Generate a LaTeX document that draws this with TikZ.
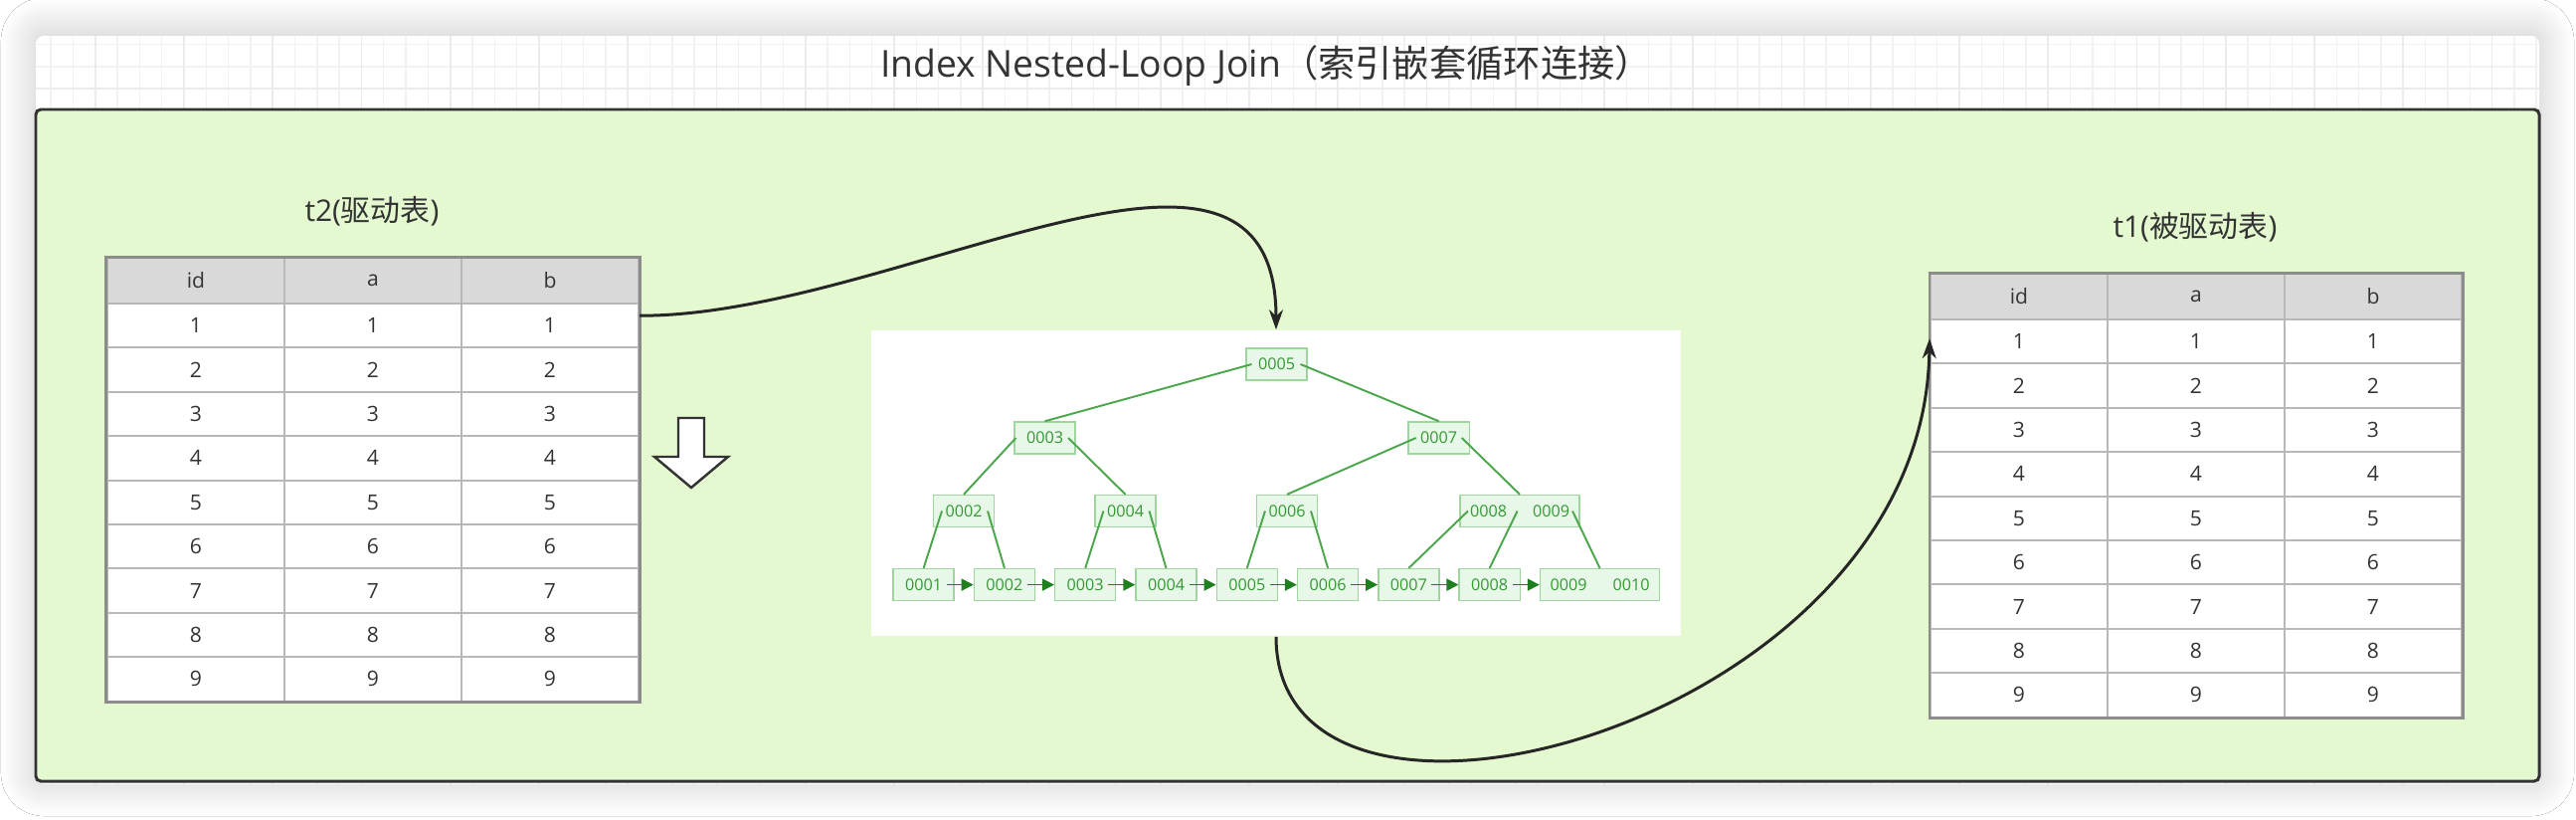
\documentclass[tikz,border=0pt]{standalone}
\usepackage{fontspec}
\setmainfont{Open Sans}
\newfontfamily\cjk{Noto Sans CJK SC}
\usepackage{tikz}
\usetikzlibrary{arrows.meta,shadows.blur}

\definecolor{panelgreen}{HTML}{E4F9CF}
\definecolor{treefill}{HTML}{E8F8E8}
\definecolor{treeborder}{HTML}{9ED69E}
\definecolor{treetext}{HTML}{339933}
\definecolor{treeline}{HTML}{4CA64C}
\definecolor{linkgreen}{HTML}{1E7F1E}
\definecolor{headgray}{HTML}{D9D9D9}
\definecolor{ink}{HTML}{333333}

\newcommand\dbtable[3]{%
  \foreach \c/\h in {1/id,2/a,3/b}{
    \node[headcell] (#1-0-\c) at ({#2+89+178*(\c-1)},{#3+23}) {\h};
    \foreach \r in {1,...,9}
      \node[cell] (#1-\r-\c) at ({#2+89+178*(\c-1)},{#3+68.2+44.4*(\r-1)}) {\r};
  }
  \draw[tableedge] (#1-0-1.north west) rectangle (#1-9-3.south east);
}

\begin{document}
\begin{tikzpicture}[x=0.01cm,y=-0.01cm,
  cell/.style={draw=black!28, line width=0.55pt, fill=white, minimum width=1.78cm,
    minimum height=0.444cm, inner sep=0pt, text=ink, font=\fontsize{6}{7}\selectfont},
  headcell/.style={cell, fill=headgray, minimum height=0.46cm},
  tableedge/.style={draw=black!45, line width=0.85pt},
  tabletitle/.style={text=ink, font=\fontsize{8.5}{10}\selectfont},
  bnode/.style={draw=treeborder, line width=0.4pt, fill=treefill, text=treetext,
    minimum width=0.61cm, minimum height=0.32cm, inner sep=0pt, font=\fontsize{4.6}{5}\selectfont},
  bedge/.style={draw=treeline, line width=0.55pt},
  leaflink/.style={draw=linkgreen, line width=0.5pt, -{Triangle[length=0.12cm,width=0.12cm]}},
  flow/.style={draw=black!85, line width=0.85pt, -{Stealth[length=0.2cm,width=0.14cm]}}]
  \useasboundingbox (0,0) rectangle (2590,824);
  \fill[white] (0,0) rectangle (2590,824);
  \fill[white, rounded corners=0.08cm, blur shadow={shadow xshift=0cm, shadow yshift=0.03cm,
    shadow blur radius=0.35cm, shadow blur steps=30, shadow opacity=22}] (36,36) rectangle (2553,788);
  \begin{scope}
    \clip[rounded corners=0.08cm] (36,36) rectangle (2553,788);
    \draw[black!5, line width=0.4pt, xshift=0.064cm] (0,0) grid[step=0.223cm] (2590,824);
    \draw[black!8, line width=0.5pt, xshift=0.064cm] (0,0) grid[step=0.892cm] (2590,824);
  \end{scope}
  \node[text=ink, font=\fontsize{10.6}{12}\selectfont] (title) at (1273,66)
    {Index Nested-Loop Join{\cjk （索引嵌套循环连接）}};
  \draw[fill=panelgreen, draw=black!80, line width=0.85pt, rounded corners=0.05cm]
    (36,110) rectangle (2553,785);

  \dbtable{t2}{108}{259}
  \dbtable{t1}{1941}{275}
  \node[tabletitle] (t2title) at (374,212) {t2({\cjk 驱动表})};
  \node[tabletitle] (t1title) at (2207,228) {t1({\cjk 被驱动表})};
  \draw[black!80, line width=0.7pt, fill=white] (682,420) -- (708,420) -- (708,459)
    -- (732,459) -- (695,490) -- (658,459) -- (682,459) -- cycle;

  \node[fill=white, minimum width=8.14cm, minimum height=3.07cm, inner sep=0pt] (bpt) at (1283,485.5) {};
  \node[bnode] (k5) at (1283.5,366) {0005};
  \node[bnode] (k3) at (1050.5,440) {0003};
  \node[bnode] (k7) at (1446.7,440) {0007};
  \node[bnode] (k2) at (969,513.5) {0002};
  \node[bnode] (k4) at (1131.5,513.5) {0004};
  \node[bnode] (k6) at (1294,513.5) {0006};
  \node[bnode, minimum width=1.2cm] (k89) at (1528,513.5) {0008\hspace{0.26cm}0009};
  \foreach \i in {1,...,8}
    \node[bnode] (leaf\i) at ({928.6+81.3*(\i-1)},587.6) {000\i};
  \node[bnode, minimum width=1.2cm] (leaf9) at (1608.5,587.6) {0009\hspace{0.26cm}0010};
  \foreach \a/\s/\b in {k5/-0.25/k3, k5/0.24/k7, k3/-0.29/k2, k3/0.235/k4, k7/-0.23/k6, k7/0.23/k89,
      k2/-0.22/leaf1, k2/0.24/leaf2, k4/-0.22/leaf3, k4/0.24/leaf4, k6/-0.22/leaf5, k6/0.24/leaf6,
      k89/-0.52/leaf7, k89/-0.024/leaf8, k89/0.53/leaf9}
    \draw[bedge] ([xshift=\s cm]\a.center) -- (\b.north);
  \foreach \i [count=\j from 2] in {1,...,8}
    \draw[leaflink] ([xshift=0.23cm]leaf\i.center) -- (leaf\j.west);

  \draw[flow] ([yshift=0.1cm]t2-1-3.east) .. controls (900,318) and (1283,70) .. (bpt.north);
  \draw[flow] (bpt.south) .. controls (1283,900) and (1935,730) .. ([yshift=0.03cm]t1-1-1.west);
\end{tikzpicture}
\end{document}
